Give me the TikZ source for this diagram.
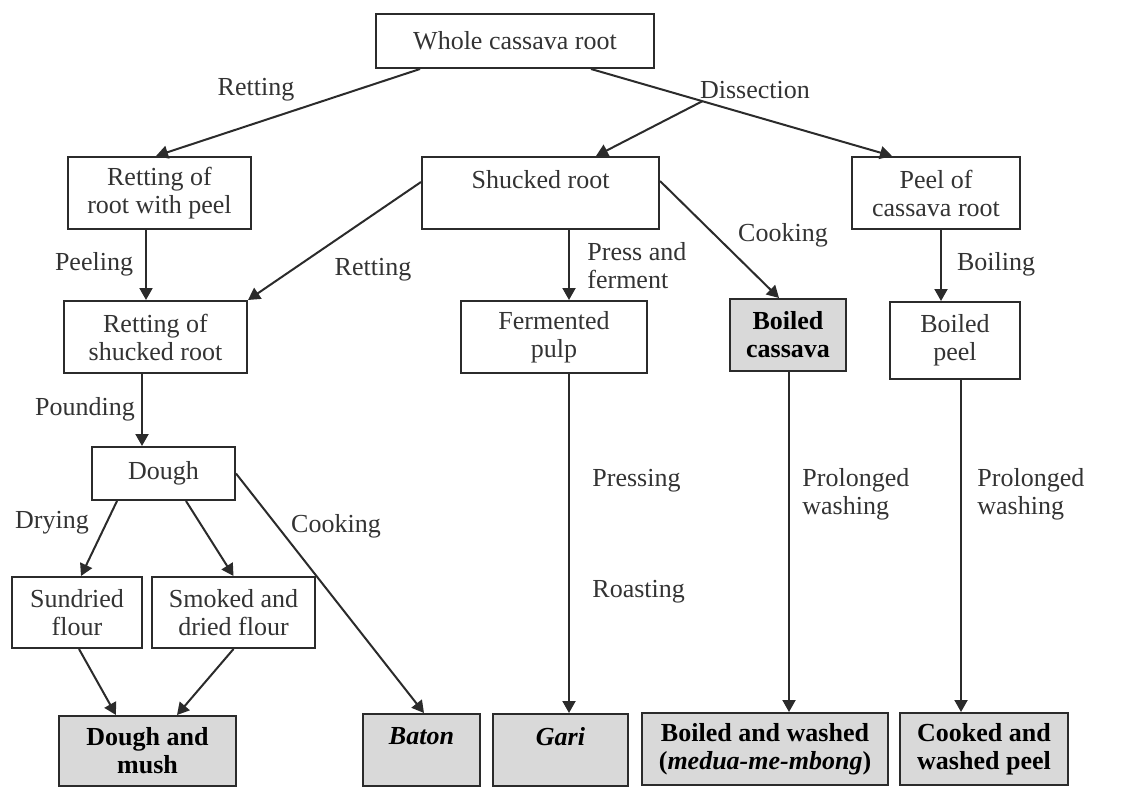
\documentclass[tikz,border=0pt]{standalone}
\usepackage{fontspec}
\setmainfont{Liberation Serif}
\usetikzlibrary{arrows.meta,calc}
\usepackage{xcolor}
\definecolor{dark}{HTML}{2B2B2B}
\definecolor{ink}{HTML}{333333}
\definecolor{boxgray}{HTML}{D9D9D9}
\tikzset{
  box/.style={draw=dark, line width=1pt, align=center, fill=white, text=ink, inner sep=0pt, font=\fontsize{13}{14}\selectfont},
  endbox/.style={box, fill=boxgray, text=black, font=\fontsize{13}{14}\selectfont\bfseries},
  arrow/.style={-{Triangle[length=6pt,width=6.5pt]}, line width=1pt, draw=dark},
  lbl/.style={text=ink, align=left, inner sep=0pt, font=\fontsize{13}{14}\selectfont}
}

\begin{document}
\begin{tikzpicture}[x=0.5pt, y=-0.5pt]
  \useasboundingbox (0,0) rectangle (1127,787);
  % boxes
  \node[box, minimum width=139pt, minimum height=27pt] (whole) at (515,41) {Whole cassava root};
  \node[box, minimum width=91.5pt, minimum height=36pt] (rwp) at (159.5,193) {Retting of\\root with peel};
  \node[box, minimum width=118.5pt, minimum height=36pt] (shucked) at (540.5,193) {Shucked root\\\mbox{}};
  \node[box, minimum width=84pt, minimum height=36pt] (peel) at (936,193) {Peel of\\cassava root};
  \node[box, minimum width=91.5pt, minimum height=36pt] (rsr) at (155.5,337) {Retting of\\shucked root};
  \node[box, minimum width=93pt, minimum height=36pt] (ferm) at (554,337) {Fermented\\pulp};
  \node[endbox, minimum width=58pt, minimum height=36pt] (bcas) at (788,335) {Boiled\\cassava};
  \node[box, minimum width=65pt, minimum height=38.5pt] (bpeel) at (955,340.5) {Boiled\\peel};
  \node[box, minimum width=71.5pt, minimum height=26.5pt] (dough) at (163.5,473.5) {Dough};
  \node[box, minimum width=65pt, minimum height=35.5pt] (sun) at (77,612.5) {Sundried\\flour};
  \node[box, minimum width=81.5pt, minimum height=35.5pt] (smoke) at (233.5,612.5) {Smoked and\\dried flour};
  \node[endbox, minimum width=88.5pt, minimum height=35pt] (mush) at (147.5,751) {Dough and\\mush};
  \node[endbox, minimum width=58.5pt, minimum height=36pt] (baton) at (421.5,750) {\textit{Baton}\\\mbox{}};
  \node[endbox, minimum width=67.5pt, minimum height=36pt] (gari) at (560.5,750) {\textit{Gari}\\\mbox{}};
  \node[endbox, minimum width=123pt, minimum height=36pt] (bw) at (765,749) {Boiled and washed\\(\textit{medua-me-mbong})};
  \node[endbox, minimum width=84pt, minimum height=36pt] (cwp) at (984,749) {Cooked and\\washed peel};
  % process labels
  \node[lbl] (lret) at (256,90) {Retting};
  \node[lbl] (ldis) at (755,90) {Dissection};
  \node[lbl] (lpeel) at (94,264) {Peeling};
  \node[lbl] (lret2) at (373,270) {Retting};
  \node[lbl, anchor=west] (lpress) at (587,266) {Press and\\ferment};
  \node[lbl] (lcook) at (783,235) {Cooking};
  \node[lbl] (lboil) at (996,264) {Boiling};
  \node[lbl] (lpound) at (85,409) {Pounding};
  \node[lbl] (ldry) at (52,523) {Drying};
  \node[lbl] (lcook2) at (336,526) {Cooking};
  \node[lbl, anchor=west] (lpressing) at (592,481) {Pressing};
  \node[lbl, anchor=west] (lroast) at (592,592) {Roasting};
  \node[lbl, anchor=west] (lwash) at (802,494) {Prolonged\\washing};
  \node[lbl, anchor=west] (lwash2) at (977,494) {Prolonged\\washing};
  % connectors
  \draw[arrow] ($(whole.south west)+(45,0)$) -- ($(rwp.north west)+(89,0)$);
  \draw[arrow] ($(whole.south west)+(216,0)$) -- coordinate[pos=0.37] (dis) ($(peel.north west)+(41,0)$);
  \draw[arrow] (dis) -- ($(shucked.north west)+(175,0)$);
  \draw[arrow] ($(rwp.south west)+(79,0)$) coordinate (p1) -- (p1 |- rsr.north);
  \draw[arrow] ($(shucked.west)+(0,-11)$) -- (rsr.north east);
  \draw[arrow] ($(shucked.south west)+(148,0)$) coordinate (p2) -- (p2 |- ferm.north);
  \draw[arrow] ($(shucked.east)+(0,-12)$) -- ($(bcas.north west)+(50,0)$);
  \draw[arrow] ($(peel.south west)+(90,0)$) coordinate (p3) -- (p3 |- bpeel.north);
  \draw[arrow] ($(rsr.south west)+(79,0)$) coordinate (p4) -- (p4 |- dough.north);
  \draw[arrow] ($(dough.south west)+(26,0)$) -- ($(sun.north west)+(70,0)$);
  \draw[arrow] ($(dough.south west)+(95,0)$) -- (smoke.north);
  \draw[arrow] (dough.east) -- ($(baton.north west)+(62,0)$);
  \draw[arrow] ($(sun.south west)+(68,0)$) -- ($(mush.north west)+(58,0)$);
  \draw[arrow] (smoke.south) -- ($(mush.north west)+(119,0)$);
  \draw[arrow] ($(ferm.south west)+(109,0)$) coordinate (p5) -- (p5 |- gari.north);
  \draw[arrow] ($(bcas.south west)+(60,0)$) coordinate (p6) -- (p6 |- bw.north);
  \draw[arrow] ($(bpeel.south west)+(72,0)$) coordinate (p7) -- (p7 |- cwp.north);
\end{tikzpicture}
\end{document}
